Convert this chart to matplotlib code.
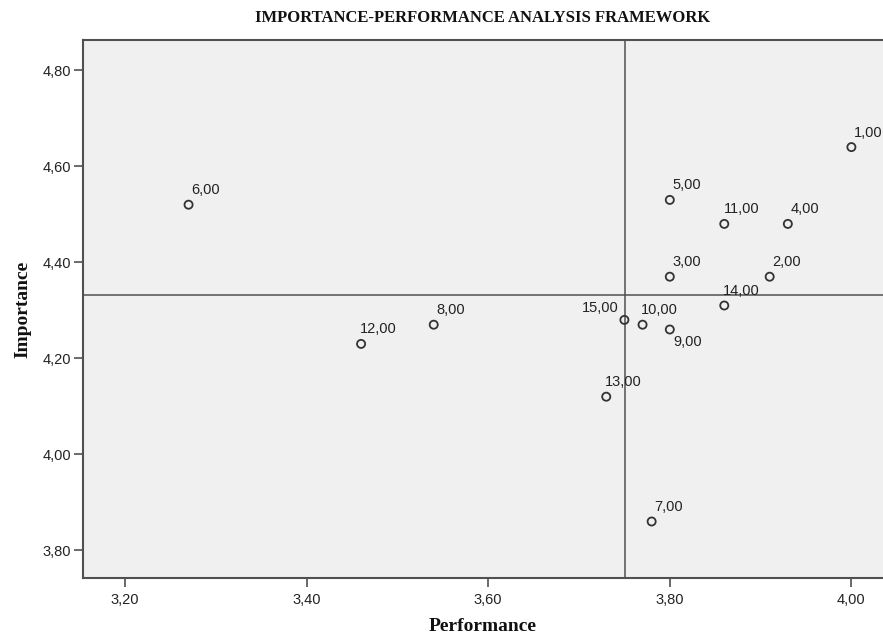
import matplotlib
matplotlib.use('Agg')
import matplotlib.pyplot as plt
from matplotlib.ticker import FixedLocator, FuncFormatter
import numpy as np

# item numbers and their mean scores
items = [1, 2, 3, 4, 5, 6, 7, 8, 9, 10, 11, 12, 13, 14, 15]
performance = [4.00, 3.91, 3.80, 3.93, 3.80, 3.27, 3.78, 3.54, 3.80, 3.77, 3.86, 3.46, 3.73, 3.86, 3.75]
importance = [4.64, 4.37, 4.37, 4.48, 4.53, 4.52, 3.86, 4.27, 4.26, 4.27, 4.48, 4.23, 4.12, 4.31, 4.28]

x_ticks = [3.20, 3.40, 3.60, 3.80, 4.00]
y_ticks = [3.80, 4.00, 4.20, 4.40, 4.60, 4.80]

title = 'IMPORTANCE-PERFORMANCE ANALYSIS FRAMEWORK'
x_title = 'Performance'
y_title = 'Importance'

def comma(v, pos=None):
	return ('%.2f' % v).replace('.', ',')

# label placement (offset points, ha, va) for points that are not labelled above
label_pos = {15: ((-4.5, 8.6), 'right', 'center'), 9: ((13, -9.1), 'center', 'center')}

plt.rcParams['font.family'] = ['Liberation Sans', 'DejaVu Sans']
edge = '#505050'

fig = plt.figure(figsize=(8.83, 6.37), dpi=100)
ax = fig.add_axes([83/883., 59/637., 800/883., 538/637.])
ax.set_facecolor('#f0f0f0')

ax.scatter(performance, importance, s=34, facecolors='none', edgecolors='#333333', linewidths=1.3, zorder=3)

# reference lines at the means
ax.axvline(np.mean(performance), color=edge, lw=1.1, zorder=2)
ax.axhline(np.mean(importance), color=edge, lw=1.1, zorder=2)

for i in range(len(items)):
	off, ha, va = label_pos.get(items[i], ((12.2, 10.4), 'center', 'center'))
	ax.annotate(comma(items[i]), (performance[i], importance[i]), xytext=off,
		textcoords='offset points', ha=ha, va=va, fontsize=10.5, color='#222222',
		annotation_clip=False, zorder=4)

ax.set_xlim(3.2 - 42/908., 3.2 + 800/908. - 42/908.)
ax.set_ylim(3.80 - 27.7/480., 4.80 + 30.3/480.)
ax.xaxis.set_major_locator(FixedLocator(x_ticks))
ax.yaxis.set_major_locator(FixedLocator(y_ticks))
ax.xaxis.set_major_formatter(FuncFormatter(comma))
ax.yaxis.set_major_formatter(FuncFormatter(comma))
ax.tick_params(axis='both', direction='out', length=6.5, width=1.2, color=edge,
	labelsize=10.5, labelcolor='#222222', pad=2)
ax.tick_params(axis='x', pad=4)

for side in ['left', 'bottom', 'top']:
	ax.spines[side].set_color(edge)
	ax.spines[side].set_linewidth(1.5)
ax.spines['right'].set_visible(False)

serif = ['Liberation Serif', 'DejaVu Serif']
ax.set_xlabel(x_title, family=serif, fontweight='bold', fontsize=14, labelpad=8, color='#111111')
ax.set_ylabel(y_title, family=serif, fontweight='bold', fontsize=14, labelpad=8, color='#111111')
ax.set_title(title, family=serif, fontweight='bold', fontsize=12, pad=13, color='#111111')

plt.savefig('out.png', dpi=100)
